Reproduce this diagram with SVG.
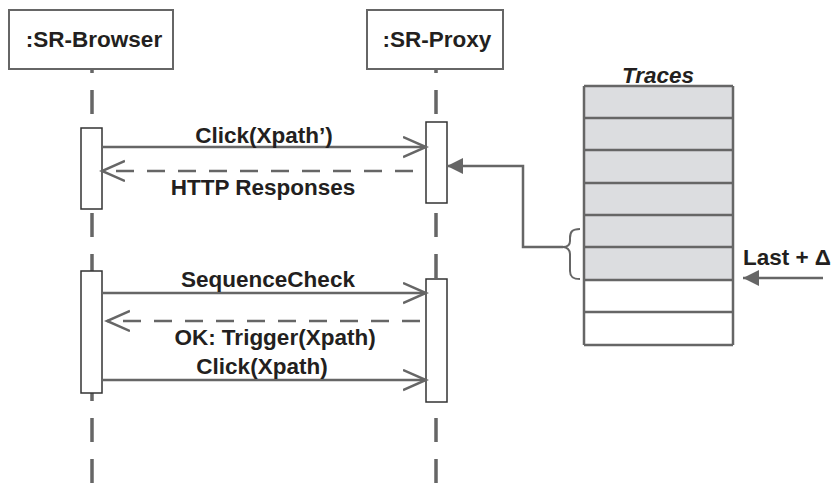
<svg xmlns="http://www.w3.org/2000/svg" width="833" height="485" viewBox="0 0 833 485">
<style>
text{font-family:"Liberation Sans",Arial,sans-serif;font-weight:bold;fill:#231f20;font-size:22.5px}
.head{fill:#fff;stroke:#666;stroke-width:2}
.life{stroke:#666;stroke-width:3.5;stroke-dasharray:24 17;stroke-dashoffset:20;fill:none}
.act{fill:#fff;stroke:#333;stroke-width:1.5}
.msg{stroke:#666;stroke-width:2.5;fill:none}
.ret{stroke:#666;stroke-width:2.5;fill:none;stroke-dasharray:18 13}
.row{stroke:#666;stroke-width:2.5}
.g{fill:#dcdde0}
.w{fill:#fff}
</style>
<defs>
<marker id="open" markerWidth="26" markerHeight="24" refX="23" refY="11" orient="auto" markerUnits="userSpaceOnUse">
<path d="M0,1 L23,11 L0,21" fill="none" stroke="#666" stroke-width="2.5"/>
</marker>
<marker id="fill" markerWidth="18" markerHeight="18" refX="16" refY="8" orient="auto" markerUnits="userSpaceOnUse">
<path d="M0,0 L16,8 L0,16 Z" fill="#666"/>
</marker>
</defs>
<g id="browser">
<line class="life" x1="92" y1="69" x2="92" y2="485"/>
<rect class="head" x="9" y="10" width="164" height="59"/>
<text x="94" y="47" text-anchor="middle">:SR-Browser</text>
<rect class="act" x="81" y="128" width="21" height="81"/>
<rect class="act" x="81" y="271" width="21" height="122"/>
</g>
<g id="proxy">
<line class="life" x1="436" y1="69" x2="436" y2="485"/>
<rect class="head" x="367" y="10" width="136" height="59"/>
<text x="437" y="47" text-anchor="middle">:SR-Proxy</text>
<rect class="act" x="426" y="122" width="21" height="81"/>
<rect class="act" x="426" y="279" width="21" height="123"/>
</g>
<g id="traces">
<text x="658" y="83" text-anchor="middle" font-style="italic">Traces</text>
<rect class="g" x="584" y="86" width="149" height="194"/>
<rect class="w" x="584" y="280" width="149" height="65"/>
<g class="row">
<line x1="584" y1="86" x2="733" y2="86"/>
<line x1="584" y1="118" x2="733" y2="118"/>
<line x1="584" y1="150" x2="733" y2="150"/>
<line x1="584" y1="183" x2="733" y2="183"/>
<line x1="584" y1="215" x2="733" y2="215"/>
<line x1="584" y1="247" x2="733" y2="247"/>
<line x1="584" y1="280" x2="733" y2="280"/>
<line x1="584" y1="312" x2="733" y2="312"/>
<line x1="584" y1="345" x2="733" y2="345"/>
<line x1="584" y1="86" x2="584" y2="345"/>
<line x1="733" y1="86" x2="733" y2="345"/>
</g>
<path d="M580,229 C572,229 570,232 570,238 L570,241 C570,245 567,247 563,247 C567,247 570,250 570,254 L570,271 C570,276 572,279 580,279" fill="none" stroke="#666" stroke-width="2"/>
<text x="831" y="265" text-anchor="end">Last + Δ</text>
</g>
<g id="connectors">
<line class="msg" x1="102" y1="147" x2="426" y2="147" marker-end="url(#open)"/>
<text x="264" y="143" text-anchor="middle">Click(Xpath’)</text>
<line class="ret" x1="413" y1="171" x2="102" y2="171" marker-end="url(#open)"/>
<text x="263" y="195" text-anchor="middle">HTTP Responses</text>
<line class="msg" x1="102" y1="293" x2="426" y2="293" marker-end="url(#open)"/>
<text x="268" y="287" text-anchor="middle">SequenceCheck</text>
<line class="ret" x1="420" y1="321" x2="107" y2="321" marker-end="url(#open)"/>
<text x="275" y="345" text-anchor="middle">OK: Trigger(Xpath)</text>
<line class="msg" x1="102" y1="380" x2="426" y2="380" marker-end="url(#open)"/>
<text x="262" y="374" text-anchor="middle">Click(Xpath)</text>
<path class="msg" d="M563,247 L523,247 L523,166 L447,166" marker-end="url(#fill)"/>
<line class="msg" x1="823" y1="278" x2="743" y2="278" marker-end="url(#fill)"/>
</g>
</svg>
